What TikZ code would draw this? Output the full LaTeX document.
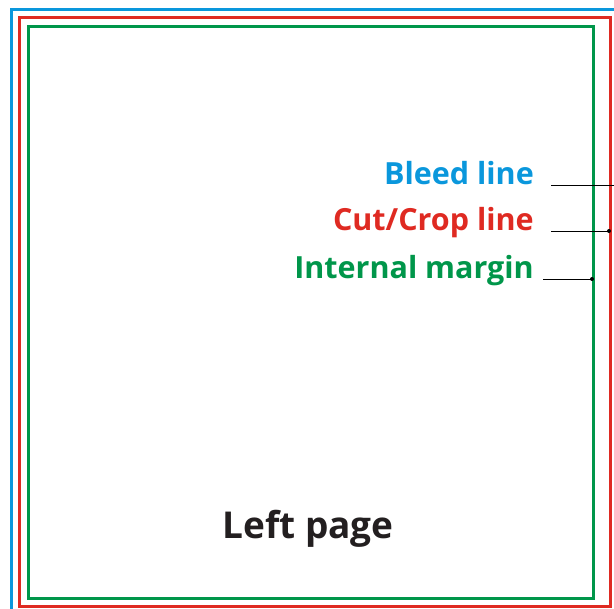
\documentclass[tikz,border=0pt]{standalone}
\usepackage{fontspec}
\setmainfont{Open Sans}
\usetikzlibrary{positioning, calc}

\definecolor{bleedblue}{HTML}{0A97DC}
\definecolor{cropred}{HTML}{DF2A22}
\definecolor{margingreen}{HTML}{00964A}
\definecolor{pageblack}{HTML}{231F20}

\begin{document}
\begin{tikzpicture}[ x = 1pt, y = -1pt
                     , every node/.style = { inner sep = 0pt
                                         , font = \bfseries\fontsize{30.5}{36}\selectfont }
                     , frame/.style = { line width = 3pt }
                     , leader/.style = { draw = black, line width = 0.8pt }
                     ]

  \useasboundingbox (0,0) rectangle (614,609);

  % the three frames
  \draw[frame, bleedblue] (11.5,9.5) rectangle (618,614);
  \draw[frame, cropred] (19.5,17.5) rectangle (610,607);
  \draw[frame, margingreen] (28,27) rectangle (593,599);

  % labels
  \node (bleed) [anchor = base east, text = bleedblue] at (534,185) {Bleed line};
  \node (crop) [anchor = base east, text = cropred] at (534,231) {Cut/Crop line};
  \node (margin) [anchor = base east, text = margingreen] at (534,279) {Internal margin};

  \node (page) [anchor = base, text = pageblack, font = \bfseries\fontsize{37}{44}\selectfont]
    at (308,539) {Left page};

  \coordinate (bleedend) at (618,185);
  \coordinate (cropend) at (609,231);
  \coordinate (marginend) at (592,279);

  \draw[leader] ([xshift = 17pt]bleed.base east) -- (bleedend);
  \draw[leader] ([xshift = 17pt]crop.base east) -- (cropend);
  \draw[leader] ([xshift = 9pt]margin.base east) -- (marginend);

  \fill (cropend) circle (2pt);
  \fill (marginend) circle (2pt);

\end{tikzpicture}
\end{document}
